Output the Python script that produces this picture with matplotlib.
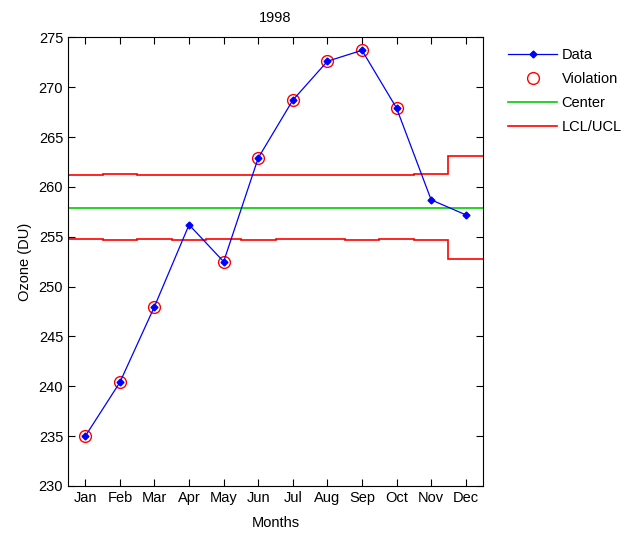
import matplotlib

matplotlib.use("Agg")
matplotlib.rcParams["font.family"] = ["Liberation Sans", "DejaVu Sans"]
import matplotlib.pyplot as plt
import numpy as np

months = ["Jan", "Feb", "Mar", "Apr", "May", "Jun",
          "Jul", "Aug", "Sep", "Oct", "Nov", "Dec"]
ozone = [235.0, 240.4, 248.0, 256.2, 252.5, 262.9,
         268.7, 272.6, 273.7, 267.9, 258.7, 257.2]
center = 257.9
ucl = [261.15, 261.25, 261.15, 261.15, 261.15, 261.15,
       261.15, 261.15, 261.15, 261.15, 261.3, 263.05]
lcl = [254.75, 254.65, 254.75, 254.65, 254.75, 254.65,
       254.75, 254.75, 254.65, 254.75, 254.65, 252.8]
violation = [True, True, True, False, True, True,
             True, True, True, True, False, False]

x = np.arange(1, len(months) + 1)
edges = np.arange(0.5, len(months) + 1.5)
viol_x = x[np.array(violation)]
viol_y = np.array(ozone)[np.array(violation)]

fig = plt.figure(figsize=(6.31, 5.34), dpi=100)
ax = fig.add_axes([0.1078, 0.0899, 0.6577, 0.8402])

h_data, = ax.plot(x, ozone, color="#0000ff", lw=0.9, marker="D", ms=3.5,
                  label="Data", zorder=4)
h_viol, = ax.plot(viol_x, viol_y, ls="none", marker="o", ms=8.5, mfc="none",
                  mec="#ff0000", mew=1.0, label="Violation", zorder=3)
h_center = ax.axhline(center, color="#00cc00", lw=1.2, label="Center")
h_lim = ax.stairs(ucl, edges, baseline=None, color="#ff0000", lw=1.2,
                  label="LCL/UCL")
ax.stairs(lcl, edges, baseline=None, color="#ff0000", lw=1.2)

ax.set_xlim(0.5, 12.5)
ax.set_ylim(230, 275)
ax.set_xticks(x)
ax.set_xticklabels(months)
ax.set_yticks(np.arange(230, 276, 5))
ax.tick_params(direction="in", top=True, right=True, length=5, labelsize=10.5,
               width=0.8)
for s in ax.spines.values():
    s.set_linewidth(0.8)

ax.set_title("1998", fontsize=10.5, pad=11)
ax.set_xlabel("Months", fontsize=10.5, labelpad=8)
ax.set_ylabel("Ozone (DU)", fontsize=10.5, labelpad=5)

fig.legend(handles=[h_data, h_viol, h_center, h_lim],
           labels=["Data", "Violation", "Center", "LCL/UCL"],
           loc="upper left", bbox_to_anchor=(0.785, 0.935), frameon=False,
           fontsize=10.5, handlelength=3.3, handletextpad=0.35,
           labelspacing=0.7)

fig.savefig("out.png", dpi=100)
